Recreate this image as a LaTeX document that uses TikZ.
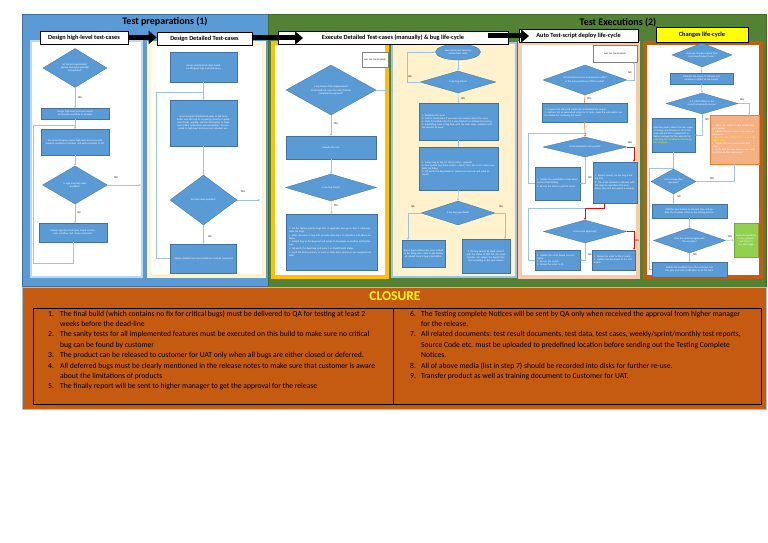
\documentclass[tikz,border=0pt]{standalone}
\usepackage{fontspec}
\setmainfont{Carlito}
\usetikzlibrary{shapes.geometric,arrows.meta}
\definecolor{oblue}{HTML}{5B9BD5}
\definecolor{dblue}{HTML}{41719C}
\definecolor{ogreen}{HTML}{548235}
\definecolor{oorange}{HTML}{C55A11}
\definecolor{accorange}{HTML}{ED7D31}
\definecolor{cream}{HTML}{FFF2CC}
\definecolor{gold}{HTML}{FFC000}
\definecolor{peach}{HTML}{F8CBAD}
\definecolor{salmon}{HTML}{F4B183}
\definecolor{lgreen}{HTML}{92D050}
\definecolor{lline}{HTML}{9DC3E6}
\definecolor{pblue}{HTML}{BDD7EE}
\definecolor{cyell}{HTML}{FFFF00}
\newcommand\mytiny{\fontsize{2.5}{3.0}\selectfont}
\begin{document}
\begin{tikzpicture}[x=1pt,y=-1pt,
  fr/.style={rectangle,draw=dblue,line width=0.3pt,fill=oblue,text=white,font=\mytiny,align=center,inner sep=1pt},
  fd/.style={diamond,aspect=2.5,draw=dblue,line width=0.3pt,fill=oblue,text=white,font=\mytiny,align=center,inner sep=0pt},
  fl/.style={draw=lline,line width=0.5pt,-{Stealth[length=2.2pt,width=2pt]}},
  fl0/.style={draw=lline,line width=0.5pt},
  ol/.style={draw=accorange,line width=0.6pt,-{Stealth[length=2.2pt,width=2pt]}},
  ol0/.style={draw=accorange,line width=0.6pt},
  rl/.style={draw=red,line width=0.7pt,-{Stealth[length=2.2pt,width=2pt]}},
  rl0/.style={draw=red,line width=0.7pt},
  yn/.style={font=\fontsize{2.6}{3}\selectfont,text=black,inner sep=0pt},
  lab/.style={draw=black,line width=0.8pt,fill=white,font=\fontsize{6.3}{7}\selectfont\bfseries,inner sep=0pt},
  bigarrow/.style={draw=black,line width=5pt,-{Triangle[length=8pt,width=13pt]}},
  ct/.style={font=\fontsize{7.65}{8.5}\selectfont,text=black,inner sep=0pt,anchor=base west},
  ttl/.style={font=\fontsize{10}{12}\selectfont\bfseries,text=black,inner sep=0pt},
  wbox/.style={rectangle,draw=gray,line width=0.4pt,fill=white,font=\fontsize{2}{2.5}\selectfont,text=black,align=center,inner sep=0.5pt}
]
\useasboundingbox[fill=white] (0,0) rectangle (768,543);

% ---------- outer areas ----------
\draw[draw=dblue,line width=0.6pt,fill=oblue] (22,14) rectangle (268,286);
\draw[draw=ogreen!80!black,line width=0.6pt,fill=ogreen] (268,14) rectangle (766,287);
\draw[draw=oblue!60!white,line width=1pt,fill=oorange] (22,287) rectangle (766,409);

\node[ttl] (t1) at (165,22) {Test preparations (1)};
\node[ttl] (t2) at (618,23) {Test Executions (2)};

% ---------- panels ----------
\draw[draw=pblue,line width=1.5pt,fill=white] (31,41) rectangle (142,277);
\draw[draw=cream,line width=4pt,fill=white] (149,43) rectangle (264,276);
\draw[draw=gold,line width=4pt,fill=white] (273,43) rectangle (387,277);
\draw[draw=lline,line width=2pt,fill=cream] (392,43) rectangle (516,277);
\draw[draw=dblue,line width=1pt] (517,43) -- (517,277);
\draw[draw=peach,line width=3.5pt,fill=white] (520,43) rectangle (638,277);
\draw[draw=oorange,line width=4.5pt,fill=white] (645,43) rectangle (761,277);

% ---------- panel 1 ----------
\node[fd,minimum width=64pt,minimum height=39pt] (p1d1) at (75,68) {Is Connect requirement/\\feature document available\\and updated?};
\node[fr,minimum width=68pt,minimum height=11pt,text width=64pt] (p1r1) at (75,113.5) {Design high-level test-cases based on business workflow of product};
\node[fr,minimum width=68pt,minimum height=26pt,text width=64pt] (p1r2) at (75,142) {Dev team/Designer review high-level test-cases with business workflow of product and add comments to QC};
\node[fd,minimum width=65pt,minimum height=38pt] (p1d2) at (75,185) {Is high-level test-cases\\qualified?};
\node[fr,minimum width=68pt,minimum height=19pt,text width=64pt] (p1r3) at (73,232.5) {Update high-level test-cases based on business workflow and review comments};
\coordinate (j11) at (75,125);
\coordinate (e1) at (141,185);
\draw[fl] (p1d1.south) -- (p1r1.north);
\draw[fl0] (p1r1.south) -- (j11);
\draw[fl] (j11) -- (p1r2.north);
\draw[fl] (p1r2.south) -- (p1d2.north);
\draw[fl] (p1d2.south) -- (p1d2.south |- p1r3.north);
\draw[fl] (p1d2.east) -- (e1);
\draw[fl0] (p1r3.south) -- (73,263) -- (33,263) -- (33,125) -- (j11);
\node[yn] (y11) at (80,98) {YES};
\node[yn] (y12) at (116,178) {YES};
\node[yn] (n11) at (79,213) {NO};

% ---------- panel 2 ----------
\node[fr,minimum width=67pt,minimum height=30pt,text width=63pt] (p2r1) at (203.5,67) {Design detailed test-cases based on designed high-level test-cases};
\node[fr,minimum width=67pt,minimum height=46pt,text width=63pt] (p2r2) at (203.5,123) {Send designed detailed test-cases to QA team leader and QA lead for reviewing (mostly on grammar checks, spelling, and the description to make sure reader understand and executable). All associated to high-level test-cases are included, etc...};
\node[fd,minimum width=67pt,minimum height=50pt] (p2d) at (203.5,200) {Are test-cases qualified?};
\node[fr,minimum width=66pt,minimum height=29pt,text width=62pt] (p2r3) at (203.5,258.5) {Update detailed test-cases based on received comments};
\coordinate (j21) at (203.5,92);
\coordinate (e2) at (260,200);
\draw[fl0] (p2r1.south) -- (j21);
\draw[fl] (j21) -- (p2r2.north);
\draw[fl] (p2r2.south) -- (p2d.north);
\draw[fl] (p2d.south) -- (p2r3.north);
\draw[fl] (p2d.east) -- (e2);
\draw[fl0] (p2r3.west) -- (156,258.5) -- (156,92) -- (j21);
\node[yn] (y21) at (243,192) {YES};
\node[yn] (n21) at (210,237) {NO};

% ---------- panel 3 ----------
\node[wbox,minimum width=26pt,minimum height=15pt,text width=24pt] (wait3) at (375,59.5) {WAIT FOR THE RELEASE(S)};
\node[fd,minimum width=90pt,minimum height=50pt] (p3d1) at (331,90) {Is any feature fully implemented?\\[1pt]Or detailed test-cases for other features\\completed \& approved?};
\node[fr,minimum width=90pt,minimum height=23pt,text width=86pt] (p3r1) at (331,147.5) {Execute the test};
\node[fd,minimum width=91pt,minimum height=27pt] (p3d2) at (331,187.5) {Is any bug found?};
\node[fr,minimum width=91pt,minimum height=56pt,text width=85pt,align=left] (p3r2) at (331.5,242) {1. Fix the highest-priority bugs first, if applicable then go to step 2, otherwise close the bugs.\\[0.8pt]2. Enter the issue in bug tool, provide clear steps to reproduce and attach evidence.\\[0.8pt]3. Submit bug to the bug tool and assign to developer to confirm and fix the bug.\\[0.8pt]4. QA verify the fixed bug and mark it as Fixed/Closed status.\\[0.8pt]5. Send the final summary to team on daily basis whenever you complete the tests.};
\draw[fl] (p3d1.east) -| ([xshift=12pt]wait3.south);
\draw[fl] (p3d1.south) -- (p3r1.north);
\draw[fl] (p3r1.south) -- (p3d2.north);
\draw[fl] (p3d2.south) -- (p3r2.north);
\node[yn] (y31) at (336,124) {YES};
\node[yn] (y32) at (336,206) {YES};

% ---------- panel 4 ----------
\node[ellipse,draw=dblue,line width=0.3pt,fill=oblue,text=white,font=\mytiny,align=center,inner sep=0pt,minimum width=45pt,minimum height=16pt] (p4e) at (458,52) {Execute the test based on\\detailed test-cases};
\node[fd,minimum width=76pt,minimum height=22pt] (p4d1) at (458,82) {Is any bug found?};
\node[fr,minimum width=79pt,minimum height=37pt,text width=73pt,align=left] (p4r1) at (458.5,121.5) {1. Duplicate the issue\\2. Ask for clarification if you have any concern about the issue.\\3. Note for further info if it is very blocker to continue the testing.\\4. Submitting issue in bug tool, with the clear steps, evidence and the severity of issue.};
\node[fr,minimum width=79pt,minimum height=43pt,text width=73pt,align=left] (p4r2) at (458.5,168.5) {1. Assign bug to dev for fixing (status: opened)\\2. Dev update bug status (status = fixed), then QA re-test when complete the fixing.\\3. QA verify the bug based on status from the test and mark as closed.};
\node[fd,minimum width=74pt,minimum height=24pt] (p4d2) at (458,213) {Is any bug been fixed?};
\node[fr,minimum width=43pt,minimum height=27pt,text width=40pt] (p4r3) at (423.5,253.5) {Bug is fixed without any issue related to the fixing with notes in the history of related issue \& bug's description};
\node[fr,minimum width=48pt,minimum height=34pt,text width=45pt] (p4r4) at (486,256) {If the bug cannot be fixed, reset it with the status of NOT FIX, dev team member can reopen the bug for further re-testing in the next release};
\draw[fl] (p4e.south) -- (p4d1.north);
\draw[fl] (p4d1.west) -- (407,82) -- (407,52) -- (p4e.west);
\draw[fl] (p4d1.south) -- (p4r1.north);
\draw[fl] (p4r1.south) -- (p4r2.north);
\draw[fl] (p4r2.south) -- (p4d2.north);
\draw[fl] (p4d2.west) -| ([xshift=-15.5pt]p4r3.north);
\draw[fl] (p4d2.east) -| ([xshift=19pt]p4r4.north);
\node[yn] (n41) at (410,77) {NO};
\node[yn] (y41) at (463,99) {YES};
\node[yn] (n42) at (413,207) {NO};
\node[yn] (y42) at (501,207) {YES};

% ---------- panel 5 ----------
\node[wbox,minimum width=44pt,minimum height=17pt,text width=40pt] (wait5) at (615,53.5) {WAIT FOR THE RELEASE(S)};
\node[fd,minimum width=84pt,minimum height=30pt] (p5d1) at (585,80) {Is the build in the test environment ready?\\[1pt]Is the manual test case (TDS) created?};
\node[fr,minimum width=85pt,minimum height=19pt,text width=80pt,align=left] (p5r1) at (584.5,112.5) {1. Prepare test data and create the automated test scripts.\\2. Add test list of automated scripts to CI tools, make the automation run the deploy for reviewing the result.};
\node[fd,minimum width=84pt,minimum height=20pt] (p5d2) at (585,147) {Is the automation test passed?};
\node[fr,minimum width=45pt,minimum height=33pt,text width=41pt,align=left] (p5r2) at (557.5,183.5) {1. Update the automation script based on the failed testing.\\[1pt]2. Re-run the tests to get the result.};
\node[fr,minimum width=44pt,minimum height=41pt,text width=40pt,align=left] (p5r3) at (615,182.5) {1. Report issue(s) via the bug tracking tool.\\[1pt]2. The script marked on the test with the steps to reproduce the issue, failed, then the test report is created.};
\node[fd,minimum width=83pt,minimum height=23pt] (p5d3) at (585,231.5) {Is the script approved?};
\node[fr,minimum width=45pt,minimum height=20pt,text width=41pt,align=left] (p5r4) at (557.5,260) {1. Update the script based on comments.\\2. Re-run the scripts.\\3. Merge the script to CI.};
\node[fr,minimum width=43pt,minimum height=20pt,text width=39pt,align=left] (p5r5) at (613.5,260) {1. Merge the script to the CI code.\\2. Update the document of the test scripts.};
\coordinate (j51) at (585,133);
\coordinate (j52) at (585,208);
\draw[fl] (p5d1.east) -| ([xshift=19pt]wait5.south);
\draw[ol] (p5d1.south) -- (p5r1.north);
\draw[ol0] (p5r1.south) -- (j51);
\draw[ol] (j51) -- (p5d2.north);
\draw[fl0] (p5r2.west) -| (528,133) -- (j51);
\draw[fl] (p5d2.south) |- (p5r2.east);
\draw[rl] (p5d2.east) -| ([xshift=19pt]p5r3.north);
\draw[rl0] ([xshift=-11pt]p5r3.south) |- (j52);
\draw[rl] (j52) -- (p5d3.north);
\draw[fl0] (p5r4.west) -| (528,208) -- (j52);
\draw[fl] (p5d3.south) |- (p5r4.east);
\draw[rl] (p5d3.east) -| ([xshift=20.5pt]p5r5.north);
\node[yn] (n51) at (630,73) {NO};
\node[yn] (y51) at (589,99) {YES};
\node[yn] (y52) at (630,143) {YES};
\node[yn] (n52) at (590,178) {NO};
\node[yn] (y53) at (637,241) {YES};
\node[yn] (n53) at (590,255) {NO};

% ---------- panel 6 ----------
\node[fd,minimum width=60pt,minimum height=24pt] (p6d1) at (702,55) {Have any changes request from\\Customer/Product Owner?};
\node[fr,minimum width=63pt,minimum height=11pt,text width=59pt] (p6r1) at (701.5,78.5) {Estimate the scope of changes and schedule to effect to the project};
\node[fd,minimum width=72pt,minimum height=21pt] (p6d2) at (702,103.5) {Is it critical effect on the\\current schedule/resources?};
\node[fr,minimum width=43pt,minimum height=34pt,text width=40pt,align=left] (p6r2) at (673.5,135) {Send the report about the risk, scope of change and timeline to all of the team and ask the management or higher manager for the approval by \textcolor{cyell}{extending the schedule or increasing the resources}};
\node[rectangle,draw=accorange,line width=0.3pt,fill=salmon,text=white,font=\mytiny,align=left,inner sep=1pt,minimum width=49pt,minimum height=49pt,text width=45pt] (p6r3) at (734.5,139.5) {1. Inform the impact to the current testing schedule.\\2. Update the test cases to the new requirement.\\\textcolor{cyell}{3. Prioritize the updated test cases as the highest ones.}\\4. Update the test cases to the test suites.\\5. Verify that the new features are working based on the requirement.};
\node[fd,minimum width=45pt,minimum height=25pt] (p6d3) at (673.5,181.5) {Is the change plan\\approved?};
\node[fr,minimum width=75pt,minimum height=14pt,text width=71pt] (p6r4) at (689.5,211) {Add the new feature to the test plan and update the schedule effect to the testing process.};
\node[fd,minimum width=72pt,minimum height=25pt] (p6d4) at (689.5,240.5) {Does the customer agree with\\the new plan?};
\node[rectangle,draw=lgreen!80!black,line width=0.3pt,fill=lgreen,text=white,font=\mytiny,align=center,inner sep=1pt,minimum width=24pt,minimum height=34pt,text width=21pt] (p6g) at (746,240) {Send the feedback to the customer and move to the next stage};
\node[fr,minimum width=75pt,minimum height=15pt,text width=71pt] (p6r5) at (689.5,269.5) {Update the feedback from the customer into the plan and send notification to all the team};
\coordinate (j61) at (673.5,168);
\draw[fl] (p6d1.south) -- (p6r1.north);
\draw[fl] (p6r1.south) -- (p6d2.north);
\draw[fl] (p6d2.east) -| ([xshift=14.5pt]p6r3.north);
\draw[fl] (p6d2.south) |- (p6r2.east);
\draw[fl0] (p6r2.south) -- (j61);
\draw[fl] (j61) -- (p6d3.north);
\draw[fl] (p6r3.south) |- (p6d3.east);
\draw[fl] (p6d3.south) -- (p6d3.south |- p6r4.north);
\draw[fl] (p6r4.south) -- (p6d4.north);
\draw[fl] (p6d4.east) -- (p6g.west);
\draw[fl] (p6d4.south) -- (p6r5.north);
\draw[fl0] (p6r5.west) -| (649,168) -- (j61);
\node[yn] (y61) at (742,100) {YES};
\node[yn] (n61) at (707,120) {NO};
\node[yn] (y62) at (712,179) {YES};
\node[yn] (n62) at (679,197) {NO};
\node[yn] (y63) at (730,237) {YES};
\node[yn] (n63) at (695,255) {NO};

% ---------- stage labels & arrows ----------
\node[lab,minimum width=88pt,minimum height=13pt] (b1) at (84,37.5) {Design high-level test-cases};
\node[lab,minimum width=95pt,minimum height=13pt] (b2) at (204.5,39) {Design Detailed Test-cases};
\node[lab,minimum width=230pt,minimum height=13pt] (b3) at (393,37.5) {Execute Detailed Test-cases (manually) \& bug life-cycle};
\node[lab,minimum width=119pt,minimum height=13pt] (b4) at (578.5,35.5) {Auto Test-script deploy life-cycle};
\node[lab,fill=cyell,minimum width=92pt,minimum height=15pt] (b5) at (702,34.5) {Changes life-cycle};
\coordinate (a2e) at (303,38);
\coordinate (a3s) at (488,36);
\coordinate (a3e) at (529,36);
\draw[bigarrow] (b1.east) -- (b1.east -| b2.west);
\draw[bigarrow] ([yshift=1pt]b2.east) -- (a2e);
\draw[bigarrow] (a3s) -- (a3e);

% ---------- closure ----------
\node[font=\fontsize{13.5}{15}\selectfont\bfseries,text=cyell,inner sep=0pt] (cl) at (395,296) {CLOSURE};
\draw[black,line width=0.8pt] (33,308) rectangle (393,404);
\draw[black,line width=0.8pt] (393,308) rectangle (761,404);

\node[ct] (n1) at (48,316) {1.};
\node[ct] (c1a) at (60,316) {The final build (which contains no fix for critical bugs) must be delivered to QA for testing at least 2};
\node[ct] (c1b) at (60,326.4) {weeks before the dead-line};
\node[ct] (n2) at (48,336.8) {2.};
\node[ct] (c2a) at (60,336.8) {The sanity tests for all implemented features must be executed on this build to make sure no critical};
\node[ct] (c2b) at (60,347.2) {bug can be found by customer};
\node[ct] (n3) at (48,357.6) {3.};
\node[ct] (c3a) at (60,357.6) {The product can be released to customer for UAT only when all bugs are either closed or deferred.};
\node[ct] (n4) at (48,368) {4.};
\node[ct] (c4a) at (60,368) {All deferred bugs must be clearly mentioned in the release notes to make sure that customer is aware};
\node[ct] (c4b) at (60,378.4) {about the limitations of products};
\node[ct] (n5) at (48,388.8) {5.};
\node[ct] (c5a) at (60,388.8) {The finally report will be sent to higher manager to get the approval for the release};

\node[ct] (n6) at (410,316) {6.};
\node[ct] (c6a) at (421,316) {The Testing complete Notices will be sent by QA only when received the approval from higher manager};
\node[ct] (c6b) at (421,326.4) {for the release.};
\node[ct] (n7) at (410,336.8) {7.};
\node[ct] (c7a) at (421,336.8) {All related documents: test result documents, test data, test cases, weekly/sprint/monthly test reports,};
\node[ct] (c7b) at (421,347.2) {Source Code etc. must be uploaded to predefined location before sending out the Testing Complete};
\node[ct] (c7c) at (421,357.6) {Notices.};
\node[ct] (n8) at (410,368) {8.};
\node[ct] (c8a) at (421,368) {All of above media (list in step 7) should be recorded into disks for further re-use.};
\node[ct] (n9) at (410,378.4) {9.};
\node[ct] (c9a) at (421,378.4) {Transfer product as well as training document to Customer for UAT.};
\end{tikzpicture}
\end{document}
